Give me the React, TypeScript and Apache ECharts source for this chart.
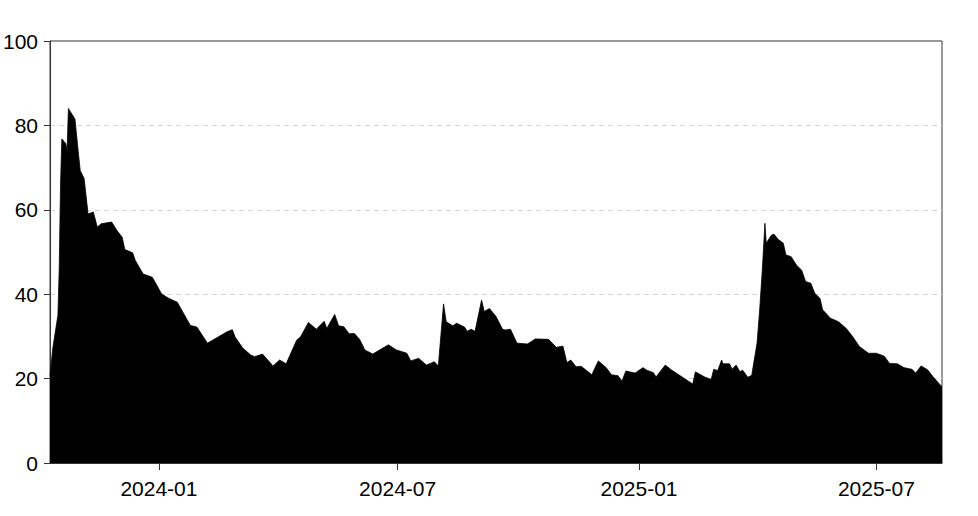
import React, { useEffect, useRef } from 'react';
import * as echarts from 'echarts';

// 日期（按图上折点读取）
const DATES = [
  '2023-10-10', '2023-10-12', '2023-10-16', '2023-10-17', '2023-10-18', '2023-10-19', '2023-10-22', '2023-10-23',
  '2023-10-24', '2023-10-29', '2023-10-31', '2023-11-02', '2023-11-05', '2023-11-08', '2023-11-12', '2023-11-15',
  '2023-11-18', '2023-11-26', '2023-11-30', '2023-12-04', '2023-12-06', '2023-12-12', '2023-12-14', '2023-12-20',
  '2023-12-27', '2024-01-03', '2024-01-08', '2024-01-15', '2024-01-25', '2024-01-30', '2024-02-07', '2024-02-22',
  '2024-02-26', '2024-02-28', '2024-03-05', '2024-03-11', '2024-03-14', '2024-03-20', '2024-03-24', '2024-03-28',
  '2024-04-02', '2024-04-07', '2024-04-15', '2024-04-18', '2024-04-24', '2024-04-30', '2024-05-06', '2024-05-08',
  '2024-05-14', '2024-05-17', '2024-05-21', '2024-05-25', '2024-05-29', '2024-06-02', '2024-06-06', '2024-06-12',
  '2024-06-24', '2024-06-30', '2024-07-08', '2024-07-11', '2024-07-17', '2024-07-23', '2024-07-29', '2024-08-01',
  '2024-08-05', '2024-08-07', '2024-08-12', '2024-08-15', '2024-08-21', '2024-08-23', '2024-08-26', '2024-08-29',
  '2024-09-03', '2024-09-05', '2024-09-09', '2024-09-14', '2024-09-19', '2024-09-21', '2024-09-25', '2024-09-30',
  '2024-10-08', '2024-10-14', '2024-10-24', '2024-10-30', '2024-11-04', '2024-11-07', '2024-11-10', '2024-11-14',
  '2024-11-18', '2024-11-26', '2024-12-01', '2024-12-07', '2024-12-11', '2024-12-16', '2024-12-19', '2024-12-22',
  '2024-12-29', '2025-01-04', '2025-01-07', '2025-01-12', '2025-01-14', '2025-01-21', '2025-01-26', '2025-02-11',
  '2025-02-13', '2025-02-20', '2025-02-25', '2025-02-27', '2025-03-02', '2025-03-05', '2025-03-06', '2025-03-11',
  '2025-03-13', '2025-03-16', '2025-03-19', '2025-03-21', '2025-03-25', '2025-03-28', '2025-03-29', '2025-04-01',
  '2025-04-03', '2025-04-05', '2025-04-07', '2025-04-08', '2025-04-12', '2025-04-14', '2025-04-17', '2025-04-21',
  '2025-04-23', '2025-04-27', '2025-05-01', '2025-05-05', '2025-05-08', '2025-05-12', '2025-05-15', '2025-05-19',
  '2025-05-21', '2025-05-27', '2025-06-02', '2025-06-08', '2025-06-13', '2025-06-18', '2025-06-25', '2025-07-01',
  '2025-07-07', '2025-07-11', '2025-07-17', '2025-07-22', '2025-07-28', '2025-07-31', '2025-08-04', '2025-08-09',
  '2025-08-13', '2025-08-18', '2025-08-20',
];

const VALUES = [
  20.5, 27, 35, 46, 66, 76.8, 75.7, 74,
  84, 81.5, 75.3, 69.3, 67.4, 59, 59.5, 55.9,
  56.7, 57.1, 55.1, 53.5, 50.6, 49.8, 48, 44.8,
  44, 40.1, 39.1, 38.1, 32.6, 32.2, 28.4, 31.1,
  31.6, 29.9, 27.2, 25.6, 25.2, 25.8, 24.4, 23,
  24.4, 23.5, 29.1, 29.9, 33.3, 31.7, 33.6, 31.9,
  35.2, 32.5, 32.3, 30.6, 30.7, 29.3, 26.8, 25.8,
  28, 26.8, 26, 24.2, 24.8, 23.2, 24, 23,
  37.7, 33.5, 32.5, 33.1, 32.2, 31.2, 31.7, 31.2,
  38.6, 35.9, 36.6, 34.7, 31.7, 31.5, 31.7, 28.4,
  28.2, 29.4, 29.3, 27.4, 27.7, 23.8, 24.4, 22.8,
  22.9, 20.9, 24.2, 22.6, 20.9, 20.7, 19.4, 21.8,
  21.3, 22.6, 22, 21.4, 20.4, 23.2, 22, 18.7,
  21.6, 20.4, 19.8, 22.2, 21.9, 24.4, 23.5, 23.5,
  22.2, 23.2, 21.6, 22, 20.3, 20.8, 22.8, 28.4,
  36.3, 45.7, 56.8, 52.1, 54, 54.2, 53, 52.1,
  49.3, 48.9, 46.9, 45.7, 43, 42.6, 40.2, 39,
  36.3, 34.3, 33.5, 31.9, 29.9, 27.6, 26, 26,
  25.3, 23.6, 23.5, 22.6, 22.2, 21.3, 23, 22.1,
  20.5, 18.7, 18.1,
];

// 坐标轴刻度
const X_TICKS = ['2024-01-01', '2024-07-01', '2025-01-01', '2025-07-01'];
const X_RANGE = ['2023-10-10', '2025-08-20'];
const Y_TICKS = [0, 20, 40, 60, 80, 100];

const FONT = 'Liberation Sans, Arial, sans-serif';

// 本地时间戳
const toTime = (s: string) => {
  const [y, m, d] = s.split('-').map(Number);
  return new Date(y, m - 1, d).getTime();
};

const fmtMonth = (v: number) => {
  const d = new Date(v);
  return `${d.getFullYear()}-${String(d.getMonth() + 1).padStart(2, '0')}`;
};

export default function App() {
  const chartRef = useRef<HTMLDivElement>(null);

  useEffect(() => {
    document.body.style.margin = '0';
    if (!chartRef.current) return;
    const chart = echarts.init(chartRef.current, null, { renderer: 'svg' });

    const tickTimes = X_TICKS.map(toTime);

    chart.setOption({
      animation: false,
      backgroundColor: '#fff',
      grid: {
        left: 48,
        right: 36,
        top: 41,
        bottom: 53,
        show: true,
        borderColor: '#333',
        borderWidth: 1,
        backgroundColor: 'transparent',
      },
      xAxis: {
        type: 'value',
        min: toTime(X_RANGE[0]),
        max: toTime(X_RANGE[1]),
        axisLine: { show: true, lineStyle: { color: '#333', width: 1 } },
        axisTick: {
          show: true,
          length: 7,
          customValues: tickTimes,
          lineStyle: { color: '#333' },
        },
        axisLabel: {
          customValues: tickTimes,
          formatter: (v: number) => fmtMonth(v),
          color: '#000',
          fontSize: 21,
          fontFamily: FONT,
          margin: 15,
        },
        splitLine: { show: false },
      },
      yAxis: {
        type: 'value',
        min: Y_TICKS[0],
        max: Y_TICKS[Y_TICKS.length - 1],
        interval: 20,
        axisLine: { show: true, lineStyle: { color: '#333', width: 1 } },
        axisTick: { show: true, length: 6, lineStyle: { color: '#333' } },
        axisLabel: { color: '#000', fontSize: 21, fontFamily: FONT, margin: 12 },
        splitLine: {
          show: true,
          lineStyle: {
            // 0 和 100 处不画网格线
            color: ['transparent', '#d4d4d4', '#d4d4d4', '#d4d4d4', '#d4d4d4', 'transparent'],
            type: [5, 4],
            width: 1,
          },
        },
      },
      series: [
        {
          type: 'line',
          data: DATES.map((d, i) => [toTime(d), VALUES[i]]),
          showSymbol: false,
          lineStyle: { color: '#000', width: 0.8 },
          itemStyle: { color: '#000' },
          areaStyle: { color: '#000', opacity: 1 },
        },
      ],
    });

    return () => {
      chart.dispose();
    };
  }, []);

  return <div ref={chartRef} style={{ width: 978, height: 516 }} />;
}
